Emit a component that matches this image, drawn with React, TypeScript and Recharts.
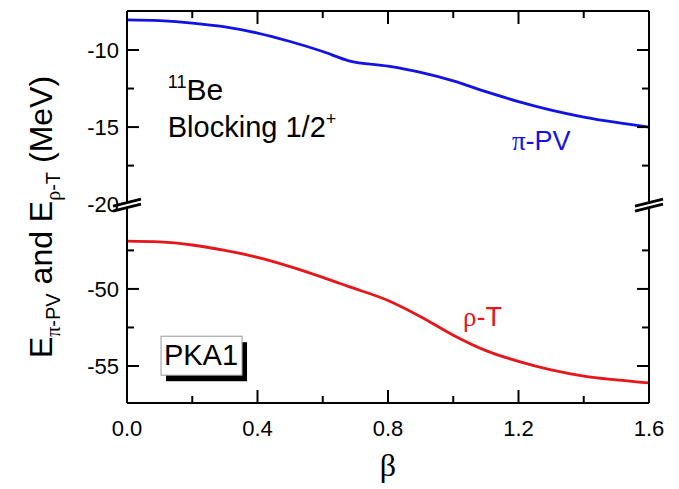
import React from "react";
import { LineChart, Line, XAxis, YAxis, ReferenceDot, Label } from "recharts";

// beta grid and the two energies (MeV)
const beta = [0, 0.1, 0.2, 0.3, 0.4, 0.5, 0.6, 0.68, 0.8, 0.9, 1.0, 1.1, 1.2, 1.3, 1.4, 1.5, 1.6];
const piPV = [-8.05, -8.1, -8.25, -8.5, -8.9, -9.45, -10.1, -10.7, -11.05, -11.45, -12.0, -12.7, -13.35, -13.9, -14.35, -14.7, -15.0];
const rhoT = [-46.9, -46.95, -47.15, -47.5, -47.95, -48.55, -49.25, -49.85, -50.75, -51.8, -53.0, -54.0, -54.7, -55.25, -55.65, -55.9, -56.1];

const yMajor = [-10, -15, -20, -50, -55];
const yMinor = [-12.5, -17.5, -47.5, -52.5];
const xMajor = [0, 0.4, 0.8, 1.2, 1.6];
const xMinor = [0.2, 0.6, 1.0, 1.4];

// broken axis: lower segment (-57.4 .. -44.5) is shifted up to sit under -20
const BREAK_AT = -20;
const SHIFT = 24.5;
const toT = (v: number) => (v >= BREAK_AT ? v : v + SHIFT);
const fromT = (t: number) => Math.round((t >= BREAK_AT ? t : t - SHIFT) * 10) / 10;
const Y_DOMAIN = [toT(-57.4), -7.47];

const data = beta.map((b, i) => ({ beta: b, pv: toT(piPV[i]), rt: toT(rhoT[i]) }));
const yTicks = [...yMajor, ...yMinor].map(toT).sort((a, b) => a - b);
const xTicks = [...xMajor, ...xMinor].sort((a, b) => a - b);

const FONT = "'Liberation Sans Narrow', 'Liberation Sans', Arial, sans-serif";
const SERIF = "'Liberation Serif', 'Times New Roman', serif";
const BLUE = "#1212e6";
const RED = "#e8151b";

const near = (a: number, b: number) => Math.abs(a - b) < 1e-6;
const isMajorY = (t: number) => yMajor.some((v) => near(toT(v), t));
const isMajorX = (v: number) => xMajor.some((m) => near(m, v));

function LeftTick(props: any) {
  const { x, y, payload } = props;
  const t = payload.value;
  const major = isMajorY(t);
  const ax = x + 8;
  return (
    <g>
      {!near(t, BREAK_AT) && (
        <line x1={ax} x2={ax + (major ? 12 : 7)} y1={y} y2={y} stroke="#000" strokeWidth={2} />
      )}
      {major && (
        <text x={x} y={y} dy={8} textAnchor="end" fontSize={22} fontFamily={FONT} fill="#000">
          {fromT(t)}
        </text>
      )}
    </g>
  );
}

function RightTick(props: any) {
  const { x, y, payload } = props;
  const t = payload.value;
  if (near(t, BREAK_AT)) return <g />;
  const len = isMajorY(t) ? 12 : 7;
  return <line x1={x} x2={x - len} y1={y} y2={y} stroke="#000" strokeWidth={2} />;
}

function BottomTick(props: any) {
  const { x, y, payload } = props;
  const major = isMajorX(payload.value);
  return (
    <g>
      <line x1={x} x2={x} y1={y} y2={y - (major ? 13 : 7)} stroke="#000" strokeWidth={2} />
      {major && (
        <text x={x} y={y + 33} textAnchor="middle" fontSize={22} fontFamily={FONT} fill="#000">
          {payload.value.toFixed(1)}
        </text>
      )}
    </g>
  );
}

function TopTick(props: any) {
  const { x, y, payload } = props;
  const len = isMajorX(payload.value) ? 13 : 7;
  return <line x1={x} x2={x} y1={y} y2={y + len} stroke="#000" strokeWidth={2} />;
}

function BreakMark(props: any) {
  const { cx, cy } = props;
  const w = 14;
  return (
    <g>
      <polygon
        points={`${cx - w},${cy + 2} ${cx + w},${cy - 5} ${cx + w},${cy} ${cx - w},${cy + 7}`}
        fill="#fff"
      />
      <line x1={cx - w} y1={cy + 2} x2={cx + w} y2={cy - 5} stroke="#000" strokeWidth={2.8} />
      <line x1={cx - w} y1={cy + 7} x2={cx + w} y2={cy} stroke="#000" strokeWidth={2.8} />
    </g>
  );
}

export default function App() {
  return (
    <div style={{ position: "absolute", left: 0, top: 0, fontFamily: FONT }}>
      <LineChart width={679} height={489} data={data} margin={{ top: 9, right: 28, bottom: 36, left: 47 }}>
        <XAxis
          dataKey="beta"
          type="number"
          domain={[0, 1.6]}
          ticks={xTicks}
          interval={0}
          tickSize={0}
          tickMargin={0}
          tickLine={false}
          tick={<BottomTick />}
          height={50}
          axisLine={{ stroke: "#000", strokeWidth: 2 }}
        >
          <Label
            content={() => (
              <text x={388} y={476} textAnchor="middle" fontSize={32} fontFamily={SERIF} fill="#000">
                β
              </text>
            )}
          />
        </XAxis>
        <XAxis
          xAxisId="top"
          orientation="top"
          dataKey="beta"
          type="number"
          domain={[0, 1.6]}
          ticks={xTicks}
          interval={0}
          tickSize={0}
          tickMargin={0}
          tickLine={false}
          tick={<TopTick />}
          height={2}
          axisLine={{ stroke: "#000", strokeWidth: 2 }}
        />
        <YAxis
          type="number"
          domain={Y_DOMAIN}
          allowDataOverflow
          ticks={yTicks}
          interval={0}
          tickSize={0}
          tickMargin={8}
          tickLine={false}
          tick={<LeftTick />}
          width={80}
          axisLine={{ stroke: "#000", strokeWidth: 2 }}
        >
          <Label
            content={() => (
              <text
                transform="translate(52, 217) rotate(-90)"
                textAnchor="middle"
                fontSize={32}
                fontFamily={FONT}
                fill="#000"
              >
                E
                <tspan fontSize={20} dy={8}>
                  <tspan fontFamily={SERIF}>π</tspan>-PV
                </tspan>
                <tspan dy={-8}> and E</tspan>
                <tspan fontSize={20} dy={8}>
                  <tspan fontFamily={SERIF}>ρ</tspan>-T
                </tspan>
                <tspan dy={-8}> (MeV)</tspan>
              </text>
            )}
          />
        </YAxis>
        <YAxis
          yAxisId="right"
          orientation="right"
          type="number"
          domain={Y_DOMAIN}
          allowDataOverflow
          ticks={yTicks}
          interval={0}
          tickSize={0}
          tickMargin={0}
          tickLine={false}
          tick={<RightTick />}
          width={2}
          axisLine={{ stroke: "#000", strokeWidth: 2 }}
        />

        <Line dataKey="pv" type="monotone" stroke={BLUE} strokeWidth={2.8} dot={false} isAnimationActive={false} />
        <Line dataKey="rt" type="monotone" stroke={RED} strokeWidth={2.8} dot={false} isAnimationActive={false} />
        <Line
          dataKey="pv"
          xAxisId="top"
          yAxisId="right"
          stroke="none"
          dot={false}
          activeDot={false}
          isAnimationActive={false}
        />

        {/* axis break marks */}
        <ReferenceDot x={0} y={BREAK_AT} r={0} ifOverflow="visible" shape={<BreakMark />} />
        <ReferenceDot x={1.6} y={BREAK_AT} r={0} ifOverflow="visible" shape={<BreakMark />} />

        {/* annotations */}
        <ReferenceDot
          x={0.125}
          y={-13.25}
          r={0}
          ifOverflow="visible"
          shape={(p: any) => (
            <text x={p.cx} y={p.cy} fontSize={30} fontFamily={FONT} fill="#000">
              <tspan fontSize={18} dy={-12}>11</tspan>
              <tspan dy={12}>Be</tspan>
            </text>
          )}
        />
        <ReferenceDot
          x={0.125}
          y={-15.65}
          r={0}
          ifOverflow="visible"
          shape={(p: any) => (
            <text x={p.cx} y={p.cy} fontSize={29} fontFamily={FONT} fill="#000">
              Blocking 1/2
              <tspan fontSize={18} dy={-12}>+</tspan>
            </text>
          )}
        />
        <ReferenceDot
          x={1.18}
          y={-16.5}
          r={0}
          ifOverflow="visible"
          shape={(p: any) => (
            <text x={p.cx} y={p.cy} fontSize={27} fontFamily={FONT} fill={BLUE}>
              <tspan fontFamily={SERIF}>π</tspan>-PV
            </text>
          )}
        />
        <ReferenceDot
          x={1.03}
          y={-27.9}
          r={0}
          ifOverflow="visible"
          shape={(p: any) => (
            <text x={p.cx} y={p.cy} fontSize={27} fontFamily={FONT} fill={RED}>
              <tspan fontFamily={SERIF}>ρ</tspan>-T
            </text>
          )}
        />
        <ReferenceDot
          x={0.23}
          y={-29.8}
          r={0}
          ifOverflow="visible"
          shape={(p: any) => (
            <g>
              <rect x={p.cx - 36} y={p.cy - 13} width={81} height={39} fill="#000" />
              <rect x={p.cx - 41} y={p.cy - 19} width={81} height={39} fill="#fff" stroke="#999" strokeWidth={1} />
              <text x={p.cx - 1} y={p.cy + 10} textAnchor="middle" fontSize={29} fontFamily={FONT} fill="#000">
                PKA1
              </text>
            </g>
          )}
        />
      </LineChart>
    </div>
  );
}
